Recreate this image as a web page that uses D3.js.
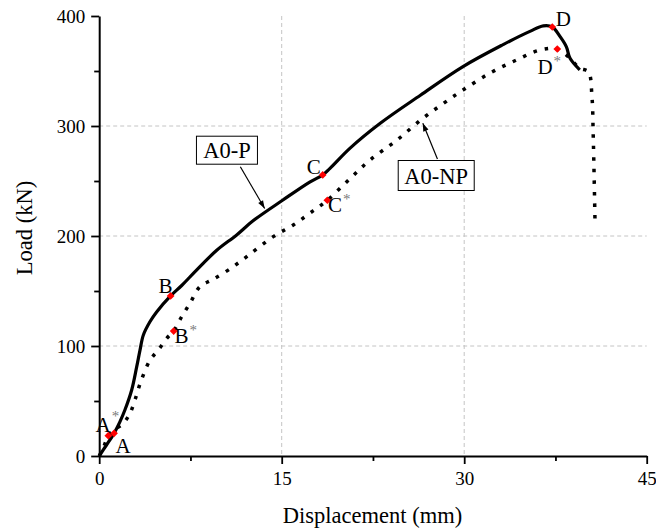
<!DOCTYPE html>
<html>
<head>
<meta charset="utf-8">
<script src="https://cdn.jsdelivr.net/npm/d3@7"></script>
<style>
  body { margin: 0; background: #fff; }
  svg { font-family: "Liberation Serif", "Times New Roman", serif; }
</style>
</head>
<body>
<svg width="656" height="530"></svg>
<script>
// A0-P (solid)
const dispP = [0, 0.6, 1.22, 1.7, 2.12, 2.67, 3.08, 3.35, 3.63, 4.17, 4.72, 5.87, 6.78, 8.0, 9.66, 11.3, 12.67, 15.1, 17.3, 18.37, 18.97, 20.6, 23.1, 26.4, 29.9, 33.2, 35.4, 36.5, 37.24, 37.9, 38.4, 38.7, 39.5]
const loadP = [0, 10, 20.6, 31, 42, 60, 81, 96, 110, 122, 131, 145.5, 155, 169, 187, 201, 214, 232.7, 249, 255.5, 261.5, 279.7, 302.5, 328, 354, 374, 386, 391, 390, 381, 372, 361.5, 351]

// A0-NP (dotted)
const dispNP = [0, 0.4, 0.75, 1.3, 2.0, 2.54, 2.94, 3.4, 4.17, 4.86, 5.55, 6.12, 6.78, 7.46, 8.28, 9.25, 10.6, 12.1, 14.3, 15.95, 17.3, 18.75, 20.6, 22.25, 24.45, 26.6, 28.3, 29.9, 32.1, 34.3, 36.2, 37.65, 38.55, 39.5, 40.2, 40.5, 40.6, 40.75]
const loadNP = [0, 9, 18.5, 24, 30, 39, 51, 67, 87, 96.4, 107, 113.6, 126.7, 138.8, 154, 160, 169, 181, 199.4, 210, 220.6, 232.5, 252, 269, 287, 307, 320.6, 332.7, 348, 360, 369, 370, 363, 352.5, 349.4, 326.6, 293.4, 214.5]

// characteristic points
const keyNames = ['A', 'B', 'C', 'D']
const keyDispP = [1.22, 5.87, 18.37, 37.24]
const keyLoadP = [20.6, 145.5, 255.5, 390]
const keyDispNP = [0.75, 6.12, 18.75, 37.65]
const keyLoadNP = [18.5, 113.6, 232.5, 370]

const xTicks = [0, 15, 30, 45]
const xMinor = [7.5, 22.5, 37.5]
const yTicks = [0, 100, 200, 300, 400]
const yMinor = [50, 150, 250, 350]

var svg = d3.select('svg')

const x = d3.scaleLinear().domain([0, 45]).range([99.2, 646.7])
const y = d3.scaleLinear().domain([0, 400]).range([456, 16])

// grid
svg.append('g').selectAll('line').data([15, 30]).enter().append('line')
  .attr('x1', d => x(d)).attr('x2', d => x(d))
  .attr('y1', y(400)).attr('y2', y(0))
  .attr('stroke', '#c4c4c4').attr('stroke-dasharray', '4,3')
svg.append('g').selectAll('line').data([100, 200, 300]).enter().append('line')
  .attr('x1', x(0)).attr('x2', x(45))
  .attr('y1', d => y(d)).attr('y2', d => y(d))
  .attr('stroke', '#c4c4c4').attr('stroke-dasharray', '4,3')

// axes
svg.append('g').attr('transform', `translate(0,${y(0)})`)
  .call(d3.axisBottom(x).tickValues(xTicks).tickSize(8).tickSizeOuter(0).tickPadding(8))
svg.append('g').attr('transform', `translate(0,${y(0)})`)
  .call(d3.axisBottom(x).tickValues(xMinor).tickSize(5).tickFormat(''))
  .select('.domain').remove()
svg.append('g').attr('transform', `translate(${x(0)},0)`)
  .call(d3.axisLeft(y).tickValues(yTicks).tickSize(8).tickSizeOuter(0).tickPadding(6))
svg.append('g').attr('transform', `translate(${x(0)},0)`)
  .call(d3.axisLeft(y).tickValues(yMinor).tickSize(5).tickFormat(''))
  .select('.domain').remove()

svg.selectAll('.domain').attr('stroke-width', 2)
svg.selectAll('.tick line').attr('stroke-width', 1.8)
svg.selectAll('.tick text').attr('font-size', 19).attr('font-family', 'Liberation Serif').attr('fill', '#000')

svg.append('text').attr('x', 372.5).attr('y', 523)
  .attr('text-anchor', 'middle').attr('font-size', 22.5)
  .text('Displacement (mm)')
svg.append('text').attr('transform', 'translate(32,228) rotate(-90)')
  .attr('text-anchor', 'middle').attr('font-size', 22.5)
  .text('Load (kN)')

// curves
const line = d3.line().x(d => x(d[0])).y(d => y(d[1])).curve(d3.curveCatmullRom)
svg.append('path').datum(d3.zip(dispNP, loadNP))
  .attr('d', line).attr('fill', 'none').attr('stroke', '#000')
  .attr('stroke-width', 3.5).attr('stroke-dasharray', '3.5,8')
svg.append('path').datum(d3.zip(dispP, loadP))
  .attr('d', line).attr('fill', 'none').attr('stroke', '#000')
  .attr('stroke-width', 3.2).attr('stroke-linejoin', 'round')

// markers (square turned 45 degrees)
const diamond = d3.symbol().type(d3.symbolSquare).size(30)
const pts = keyNames.map((n, i) => ({ n: n, star: false, dx: keyDispP[i], ld: keyLoadP[i] }))
  .concat(keyNames.map((n, i) => ({ n: n, star: true, dx: keyDispNP[i], ld: keyLoadNP[i] })))
svg.append('g').selectAll('path').data(pts).enter().append('path')
  .attr('d', diamond)
  .attr('transform', d => `translate(${x(d.dx)},${y(d.ld)}) rotate(45)`)
  .attr('fill', '#ff0000')

// label offsets (pixels from marker)
const offP = { A: [9, 20], B: [-5, -3], C: [-9, -1], D: [11, -1] }
const offNP = { A: [-1, -4], B: [12, 12], C: [12, 12], D: [-8, 25] }
const lab = svg.append('g').selectAll('text').data(pts).enter().append('text')
  .attr('x', d => x(d.dx) + (d.star ? offNP : offP)[d.n][0])
  .attr('y', d => y(d.ld) + (d.star ? offNP : offP)[d.n][1])
  .attr('text-anchor', 'middle').attr('font-size', 21)
  .text(d => d.n)
lab.filter(d => d.star).append('tspan')
  .attr('dx', 1).attr('dy', d => d.n === 'A' ? -11 : -8)
  .attr('font-size', 15).attr('fill', '#7a7a7a')
  .text('*')

// callouts
svg.append('defs').append('marker').attr('id', 'arr')
  .attr('viewBox', '0 0 10 10').attr('refX', 10).attr('refY', 5)
  .attr('markerWidth', 10).attr('markerHeight', 8).attr('markerUnits', 'userSpaceOnUse')
  .attr('orient', 'auto')
  .append('path').attr('d', 'M0,1.5L10,5L0,8.5Z').attr('fill', '#000')

const callouts = [
  { t: 'A0-P', bx: 10.5, by: 278, w: 61, h: 28, ax1: 11.6, ay1: 263, ax2: 13.6, ay2: 225 },
  { t: 'A0-NP', bx: 27.7, by: 255, w: 76, h: 30, ax1: 27.8, ay1: 270, ax2: 26.6, ay2: 302.5 }
]
const cg = svg.append('g').selectAll('g').data(callouts).enter().append('g')
cg.append('line')
  .attr('x1', d => x(d.ax1)).attr('y1', d => y(d.ay1))
  .attr('x2', d => x(d.ax2)).attr('y2', d => y(d.ay2))
  .attr('stroke', '#000').attr('stroke-width', 1.2).attr('marker-end', 'url(#arr)')
cg.append('rect')
  .attr('x', d => x(d.bx) - d.w / 2).attr('y', d => y(d.by) - d.h / 2)
  .attr('width', d => d.w).attr('height', d => d.h)
  .attr('fill', '#fff').attr('stroke', '#000').attr('stroke-width', 1)
cg.append('text')
  .attr('x', d => x(d.bx)).attr('y', d => y(d.by) + 8)
  .attr('text-anchor', 'middle').attr('font-size', 22.5)
  .text(d => d.t)
</script>
</body>
</html>
